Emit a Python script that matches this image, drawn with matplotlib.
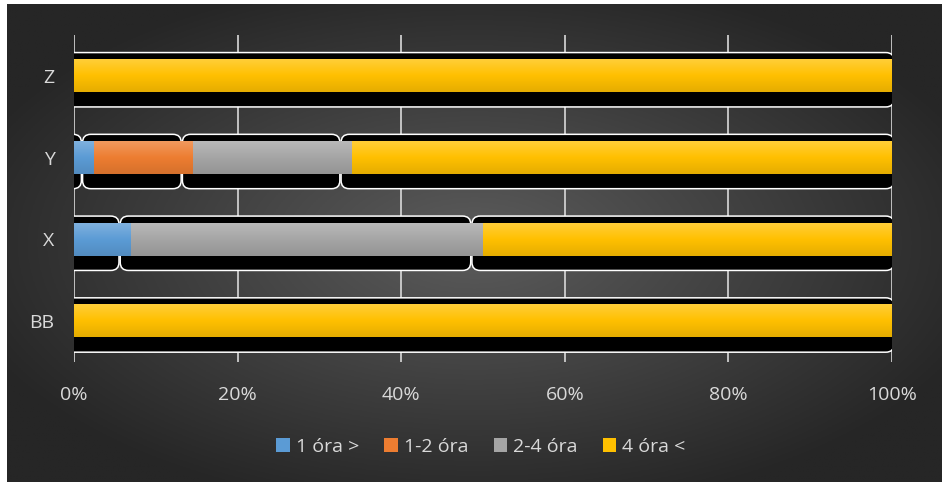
import numpy as np
import matplotlib
matplotlib.use("Agg")
from matplotlib import pyplot as plt
from matplotlib.patches import FancyBboxPatch, Rectangle, Patch
from matplotlib.colors import to_rgb
from matplotlib.ticker import FuncFormatter

# data (percent of each row)
categories = ["BB", "X", "Y", "Z"]
under_1h = [0, 7.0, 2.4, 0]
h1_2 = [0, 0, 12.2, 0]
h2_4 = [0, 43.0, 19.4, 0]
over_4h = [100, 50.0, 66.0, 100]
series = [under_1h, h1_2, h2_4, over_4h]
labels = ["1 óra >", "1-2 óra", "2-4 óra", "4 óra <"]
colors = ["#5B9BD5", "#ED7D31", "#A5A5A5", "#FFC000"]

plt.rcParams["font.family"] = ["Open Sans", "DejaVu Sans"]
txt = "#d9d9d9"

fig = plt.figure(figsize=(9.42, 4.83), dpi=100)
fig.patch.set_facecolor("white")

# radial gradient background
bg = fig.add_axes([7 / 942, 1 / 483, 935 / 942, 478 / 483], zorder=-1)
gx, gy = np.meshgrid(np.linspace(-1, 1, 400), np.linspace(-1, 1, 200))
r = np.clip(np.sqrt(gx ** 2 + gy ** 2) / 1.15, 0, 1)
inner = np.array(to_rgb("#5c5c5c"))
outer = np.array(to_rgb("#262626"))
img = inner + (outer - inner) * r[..., None]
bg.imshow(img, aspect="auto", extent=(0, 1, 0, 1))
bg.axis("off")

ax = fig.add_axes([74 / 942, 121 / 483, 818 / 942, 327 / 483])
ax.set_facecolor("none")

y = np.arange(len(categories))
bar_h = 0.40
above, below = 0.085, 0.18
clip = Rectangle((0, -0.5), 100.3, 4, transform=ax.transData)

left = np.zeros(len(categories))
bars = []
for vals, col in zip(series, colors):
    vals = np.array(vals, dtype=float)
    rects = ax.barh(y, vals, left=left, height=bar_h, color=col, zorder=3)
    for yi, l, w in zip(y, left, vals):
        if w <= 0:
            continue
        x0 = l - 1.35
        x1 = 100.25 if l + w >= 99.9 else l + w - 1.5
        sh = FancyBboxPatch((x0, yi - bar_h / 2 - below), x1 - x0,
                            bar_h + above + below,
                            boxstyle="round,pad=0,rounding_size=1.0",
                            mutation_aspect=0.1, facecolor="black",
                            edgecolor="white", linewidth=1.1, zorder=2)
        sh.set_clip_path(clip)
        ax.add_patch(sh)
    bars.append(rects)
    left = left + vals

# vertical gradient on each bar
for rects, col in zip(bars, colors):
    c = np.array(to_rgb(col))
    light = c + (1 - c) * 0.22
    dark = c * 0.9
    t = np.linspace(0, 1, 50)[:, None]
    grad = np.where(t < 0.5, dark + (c - dark) * (t / 0.5),
                    c + (light - c) * ((t - 0.5) / 0.5))
    grad = grad[:, None, :]
    for rc in rects:
        if rc.get_width() <= 0:
            continue
        x0, y0 = rc.get_x(), rc.get_y()
        ax.imshow(grad, extent=(x0, x0 + rc.get_width(), y0, y0 + rc.get_height()),
                  origin="lower", aspect="auto", zorder=4, interpolation="bilinear")

ax.set_xlim(0, 100)
ax.set_ylim(-0.5, 3.5)
ax.set_xticks(np.arange(0, 101, 20))
ax.xaxis.set_major_formatter(FuncFormatter(lambda v, p: f"{v:.0f}%"))
ax.set_yticks(y)
ax.set_yticklabels(categories)
ax.grid(axis="x", color="#d9d9d9", linewidth=1.2)
ax.set_axisbelow(True)
ax.tick_params(axis="both", length=0, labelcolor=txt, labelsize=14)
ax.tick_params(axis="x", pad=17)
ax.tick_params(axis="y", pad=14)
for s in ax.spines.values():
    s.set_visible(False)

handles = [Patch(facecolor=c, edgecolor="none") for c in colors]
fig.legend(handles, labels, loc="center", bbox_to_anchor=(481 / 942, 1 - 447 / 483),
           ncol=4, frameon=False, fontsize=14, labelcolor=txt,
           handlelength=0.7, handleheight=0.7, handletextpad=0.3,
           columnspacing=1.3)

fig.savefig("out.png", dpi=100)
